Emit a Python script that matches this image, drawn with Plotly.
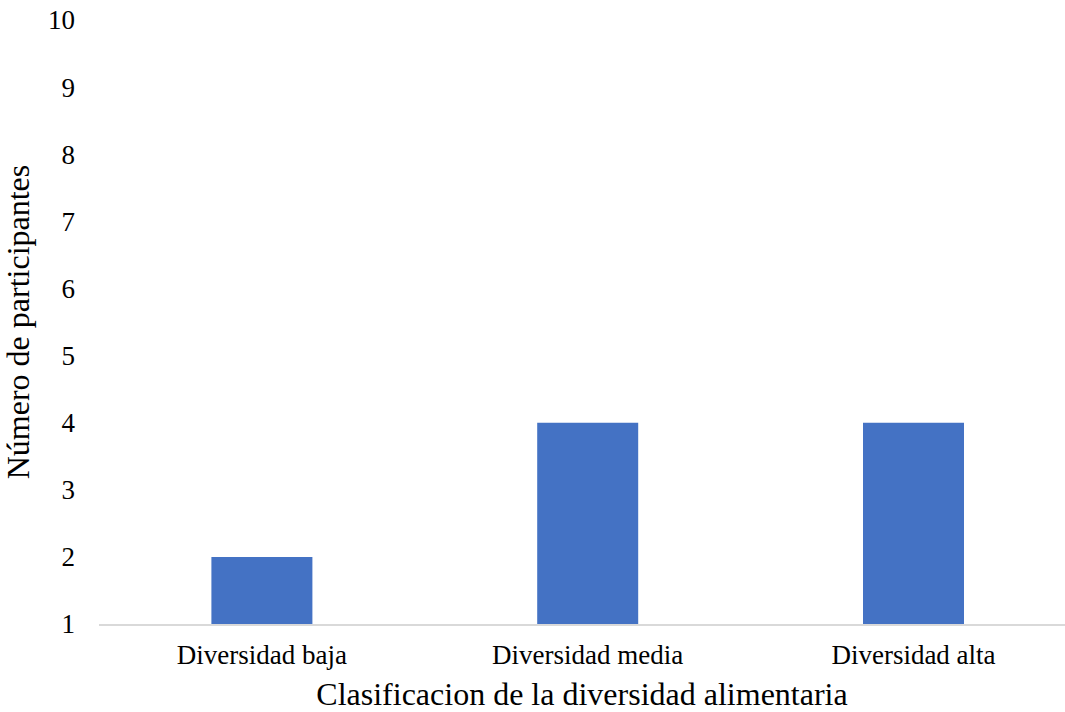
import plotly.graph_objects as go

categorias = ["Diversidad baja", "Diversidad media", "Diversidad alta"]
participantes = [2, 4, 4]
y_ticks = list(range(1, 11))

fuente = "Liberation Serif, Times New Roman, serif"

fig = go.Figure(
    go.Bar(
        x=categorias,
        y=participantes,
        width=0.31,
        marker=dict(color="#4472C4", line=dict(width=0)),
    )
)

fig.update_layout(
    width=1065,
    height=712,
    margin=dict(l=99, r=0, t=20, b=88),
    paper_bgcolor="white",
    plot_bgcolor="white",
    font=dict(family=fuente, color="black", size=27),
    showlegend=False,
    xaxis=dict(
        range=[-0.5, 2.465],
        showline=True,
        linecolor="#d9d9d9",
        linewidth=2,
        showgrid=False,
        ticks="",
        ticklabelstandoff=6,
        tickfont=dict(size=27),
        title=dict(text="Clasificacion de la diversidad alimentaria",
                   font=dict(size=32), standoff=13),
    ),
    yaxis=dict(
        range=[1, 10],
        tickvals=y_ticks,
        showgrid=False,
        zeroline=False,
        showline=False,
        ticks="",
        ticklabelstandoff=23,
        tickfont=dict(size=27),
        title=dict(text="Número de participantes", font=dict(size=32), standoff=12),
    ),
)

fig.write_html("out.html")
